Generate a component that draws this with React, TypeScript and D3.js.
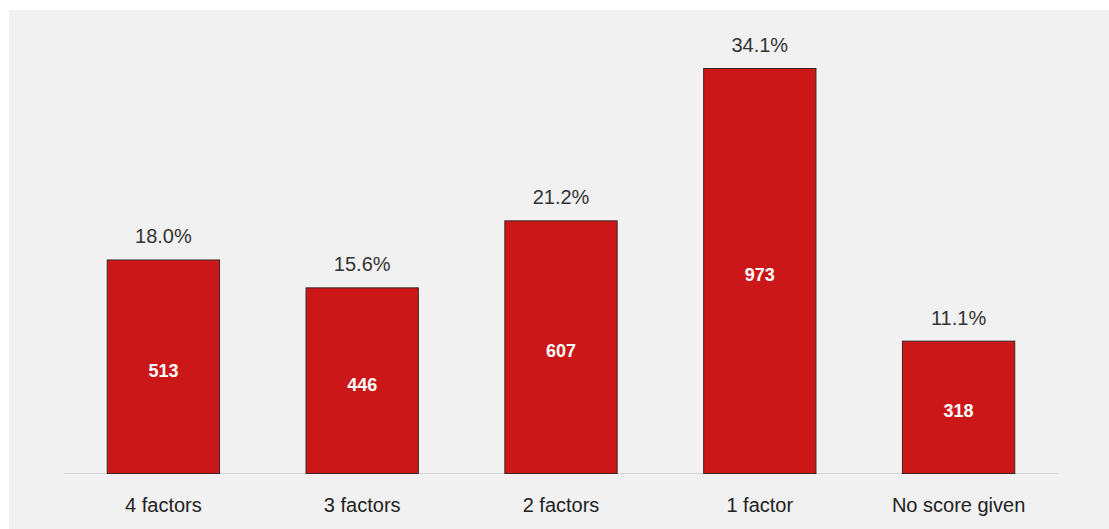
import React, { useEffect, useRef } from "react";
import * as d3 from "d3";

const categories = ["4 factors", "3 factors", "2 factors", "1 factor", "No score given"];
const counts = [513, 446, 607, 973, 318];
const percents = ["18.0%", "15.6%", "21.2%", "34.1%", "11.1%"];

const WIDTH = 1109;
const HEIGHT = 529;

const App: React.FC = () => {
  const svgRef = useRef<SVGSVGElement>(null);

  useEffect(() => {
    if (!svgRef.current) return;
    const svg = d3.select(svgRef.current);
    svg.selectAll("*").remove();

    const font = "'Liberation Sans', Arial, Helvetica, sans-serif";
    const baseline = 473;

    svg
      .append("rect")
      .attr("x", 9)
      .attr("y", 10)
      .attr("width", WIDTH - 9)
      .attr("height", HEIGHT - 10)
      .attr("fill", "#f1f1f1");

    const x = d3
      .scaleBand<string>()
      .domain(categories)
      .range([64, 1058])
      .paddingInner(0.43)
      .paddingOuter(0.215);

    const y = d3
      .scaleLinear()
      .domain([0, d3.max(counts) || 0])
      .range([baseline, 68]);

    const data = categories.map((c, i) => ({ label: c, count: counts[i], pct: percents[i] }));

    // axis line
    svg
      .append("line")
      .attr("x1", 64)
      .attr("x2", 1058)
      .attr("y1", baseline + 0.5)
      .attr("y2", baseline + 0.5)
      .attr("stroke", "#d6d6d6")
      .attr("stroke-width", 1);

    svg
      .selectAll(".bar")
      .data(data)
      .enter()
      .append("rect")
      .attr("class", "bar")
      .attr("x", (d) => (x(d.label) || 0) + 0.5)
      .attr("y", (d) => y(d.count) + 0.5)
      .attr("width", x.bandwidth() - 1)
      .attr("height", (d) => baseline - y(d.count))
      .attr("fill", "#cc1719")
      .attr("stroke", "#3a2626")
      .attr("stroke-width", 1);

    svg
      .selectAll(".pct")
      .data(data)
      .enter()
      .append("text")
      .attr("class", "pct")
      .attr("x", (d) => (x(d.label) || 0) + x.bandwidth() / 2)
      .attr("y", (d) => y(d.count) - 16)
      .attr("text-anchor", "middle")
      .style("font-family", font)
      .style("font-size", "20px")
      .style("fill", "#333")
      .text((d) => d.pct);

    svg
      .selectAll(".count")
      .data(data)
      .enter()
      .append("text")
      .attr("class", "count")
      .attr("x", (d) => (x(d.label) || 0) + x.bandwidth() / 2)
      .attr("y", (d) => (y(d.count) + baseline) / 2 + 10.5)
      .attr("text-anchor", "middle")
      .style("font-family", font)
      .style("font-size", "18px")
      .style("font-weight", "bold")
      .style("fill", "#fff")
      .text((d) => d.count);

    svg
      .selectAll(".cat")
      .data(data)
      .enter()
      .append("text")
      .attr("class", "cat")
      .attr("x", (d) => (x(d.label) || 0) + x.bandwidth() / 2)
      .attr("y", 512)
      .attr("text-anchor", "middle")
      .style("font-family", font)
      .style("font-size", "20px")
      .style("fill", "#222")
      .text((d) => d.label);
  }, []);

  return (
    <svg
      ref={svgRef}
      width={WIDTH}
      height={HEIGHT}
      style={{ position: "absolute", left: 0, top: 0, display: "block", background: "#fff" }}
    />
  );
};

export default App;
